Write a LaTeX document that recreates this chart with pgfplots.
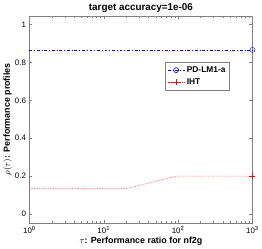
\documentclass[border=0pt]{standalone}
\usepackage{pgfplots}
\pgfplotsset{compat=1.18}
\usepackage{fontspec}
\setmainfont{Liberation Sans}
\begin{document}
\begin{tikzpicture}[x=1bp,y=1bp]
\begin{axis}[
  scale only axis, width=225bp, height=209bp,
  clip=false,
  xmode=log, xmin=1, xmax=1000,
  ymin=-0.047, ymax=1.047,
  xtick={1,10,100,1000},
  xticklabels={10\textsuperscript{0},10\textsuperscript{1},10\textsuperscript{2},10\textsuperscript{3}},
  ytick={0,0.2,0.4,0.6,0.8,1},
  yticklabels={0,0.2,0.4,0.6,0.8,1},
  tick align=inside,
  axis line style={gray},
  every tick/.style={gray},
  major tick length=3bp, minor tick length=1.8bp,
  tick label style={font=\fontsize{8}{9}\selectfont, black},
  title={\textbf{target accuracy=1e-06}},
  title style={font=\fontsize{10}{11}\selectfont, yshift=-6bp},
  xlabel={$\tau$\textbf{: Performance ratio for nf2g}},
  ylabel={$\rho(\tau)$\textbf{: Performance profiles}},
  label style={font=\fontsize{9}{10}\selectfont},
  xlabel style={yshift=3bp},
  ylabel style={yshift=-4bp},
  legend style={at={(0.898,0.775)}, anchor=north east, font=\fontsize{8.5}{9}\selectfont\bfseries, draw=gray, inner sep=2bp, row sep=1bp},
  legend cell align=left,
]
\addlegendimage{blue, line width=0.6bp, dash dot, mark=o, mark size=2.5bp, mark options={solid}}
\addlegendentry{PD-LM1-a}
\addlegendimage{red, densely dotted, line width=0.6bp, mark=+, mark size=3bp, mark options={solid}}
\addlegendentry{IHT}
\addplot[blue, line width=0.6bp, dash dot, forget plot] coordinates {(1,0.8667) (1000,0.8667)};
\addplot[blue, only marks, mark=o, mark size=2.5bp, forget plot] coordinates {(1000,0.8667)};
\addplot[red!80, line width=0.6bp, densely dotted, forget plot] coordinates {(1,0.1333) (20,0.1333) (95,0.2) (1000,0.2)};
\addplot[red, only marks, mark=+, mark size=3bp, forget plot] coordinates {(1000,0.2)};
\end{axis}
\end{tikzpicture}
\end{document}
